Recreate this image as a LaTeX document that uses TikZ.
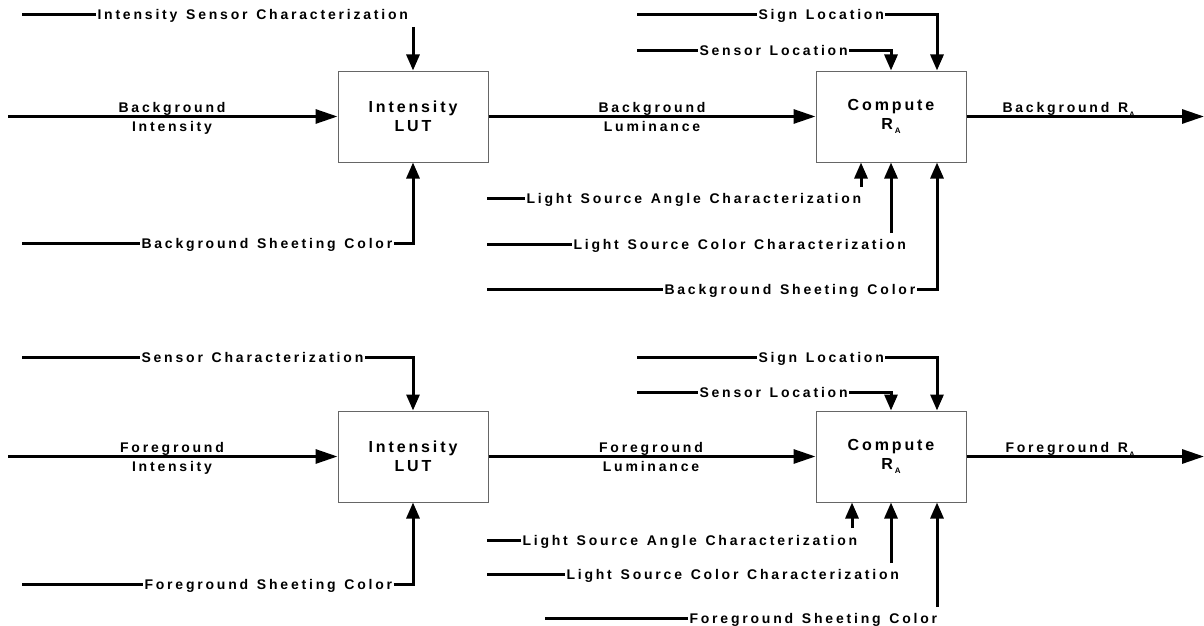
\documentclass[tikz,border=0pt]{standalone}
\usepackage{fontspec}
\usetikzlibrary{arrows.meta,calc}
\newfontfamily\labfont[LetterSpace=20,WordSpace=1.3]{Liberation Sans}
\newfontfamily\blkfont[LetterSpace=18]{Liberation Sans}
\newcommand{\subA}[1]{\raisebox{#1}{\fontsize{8}{8}\selectfont A}}
\begin{document}
\begin{tikzpicture}[x=1pt,y=-1pt,
  lab/.style={font=\labfont\bfseries\fontsize{14}{16}\selectfont, inner sep=0pt, outer sep=1.5pt, text height=10pt, text depth=0pt},
  blk/.style={draw=black!60, line width=1pt, minimum width=150pt, minimum height=91pt, align=center, inner sep=0pt,
    font=\blkfont\bfseries\fontsize{16}{19}\selectfont},
  wire/.style={line width=3pt},
  harr/.style={wire, -{Triangle[length=22pt,width=14pt]}},
  varr/.style={wire, -{Triangle[length=16pt,width=13pt]}}]
\useasboundingbox (0,0) rectangle (1204,626);

% ---------------- top row ----------------
\node[blk] (lut1) at (413,116.5) {Intensity\\LUT};
\node[blk] (cmp1) at (891,116.5) {Compute\\R\kern2pt\subA{-3.5pt}};

\coordinate (isc0) at (22,15);
\node[lab, anchor=west] (isc) at (96,15) {Intensity Sensor Characterization};
\draw[wire] (isc0) -- (isc.west);
\coordinate (isc1) at (413,27);
\draw[varr] (isc1) -- (lut1.north);

\coordinate (bi0) at (8,116.5);
\draw[harr] (bi0) -- (lut1.west);
\node[lab] (bia) at (172,107) {Background};
\node[lab] (bib) at (172,126) {Intensity};

\coordinate (bsc0) at (22,243);
\node[lab, anchor=west] (bsc) at (140,243) {Background Sheeting Color};
\draw[wire] (bsc0) -- (bsc.west);
\draw[varr] (bsc.east) -| (lut1.south);

\draw[harr] (lut1.east) -- (cmp1.west);
\node[lab] (bla) at (652,107) {Background};
\node[lab] (blb) at (652,126) {Luminance};

\coordinate (sl0) at (637,15);
\node[lab, anchor=west] (sl) at (757,15) {Sign Location};
\draw[wire] (sl0) -- (sl.west);
\draw[varr] (sl.east) -| ([xshift=46pt]cmp1.north);

\coordinate (snl0) at (637,51);
\node[lab, anchor=west] (snl) at (698,51) {Sensor Location};
\draw[wire] (snl0) -- (snl.west);
\draw[varr] (snl.east) -| (cmp1.north);

\coordinate (out1) at (1204,116.5);
\draw[harr] (cmp1.east) -- (out1);
\node[lab, anchor=west] (bra) at (1001,107) {Background R\kern1pt\subA{-5pt}};

\coordinate (lsa0) at (487,198);
\node[lab, anchor=west] (lsa) at (525,198) {Light Source Angle Characterization};
\draw[wire] (lsa0) -- (lsa.west);
\coordinate (lsa1) at (861,187);
\draw[varr] (lsa1) -- ([xshift=-30pt]cmp1.south);

\coordinate (lsc0) at (487,244);
\node[lab, anchor=west] (lsc) at (572,244) {Light Source Color Characterization};
\draw[wire] (lsc0) -- (lsc.west);
\coordinate (lsc1) at (891,233);
\draw[varr] (lsc1) -- (cmp1.south);

\coordinate (bscr0) at (487,289);
\node[lab, anchor=west] (bscr) at (663,289) {Background Sheeting Color};
\draw[wire] (bscr0) -- (bscr.west);
\draw[varr] (bscr.east) -| ([xshift=46pt]cmp1.south);

% ---------------- bottom row ----------------
\node[blk] (lut2) at (413,456.5) {Intensity\\LUT};
\node[blk] (cmp2) at (891,456.5) {Compute\\R\kern2pt\subA{-3.5pt}};

\coordinate (sc0) at (22,357);
\node[lab, anchor=west] (sc) at (140,357) {Sensor Characterization};
\draw[wire] (sc0) -- (sc.west);
\draw[varr] (sc.east) -| (lut2.north);

\coordinate (fi0) at (8,456.5);
\draw[harr] (fi0) -- (lut2.west);
\node[lab] (fia) at (172,447) {Foreground};
\node[lab] (fib) at (172,466) {Intensity};

\coordinate (fsc0) at (22,584);
\node[lab, anchor=west] (fsc) at (143,584) {Foreground Sheeting Color};
\draw[wire] (fsc0) -- (fsc.west);
\draw[varr] (fsc.east) -| (lut2.south);

\draw[harr] (lut2.east) -- (cmp2.west);
\node[lab] (fla) at (651,447) {Foreground};
\node[lab] (flb) at (651,466) {Luminance};

\coordinate (sl20) at (637,357);
\node[lab, anchor=west] (sl2) at (757,357) {Sign Location};
\draw[wire] (sl20) -- (sl2.west);
\draw[varr] (sl2.east) -| ([xshift=46pt]cmp2.north);

\coordinate (snl20) at (637,392);
\node[lab, anchor=west] (snl2) at (698,392) {Sensor Location};
\draw[wire] (snl20) -- (snl2.west);
\draw[varr] (snl2.east) -| (cmp2.north);

\coordinate (out2) at (1204,456.5);
\draw[harr] (cmp2.east) -- (out2);
\node[lab, anchor=west] (fra) at (1004,447) {Foreground R\kern1pt\subA{-5pt}};

\coordinate (lsa20) at (487,540);
\node[lab, anchor=west] (lsa2) at (521,540) {Light Source Angle Characterization};
\draw[wire] (lsa20) -- (lsa2.west);
\coordinate (lsa21) at (852,528);
\draw[varr] (lsa21) -- ([xshift=-39pt]cmp2.south);

\coordinate (lsc20) at (487,574);
\node[lab, anchor=west] (lsc2) at (565,574) {Light Source Color Characterization};
\draw[wire] (lsc20) -- (lsc2.west);
\coordinate (lsc21) at (891,563);
\draw[varr] (lsc21) -- (cmp2.south);

\coordinate (fscr0) at (545,618);
\node[lab, anchor=west] (fscr) at (688,618) {Foreground Sheeting Color};
\draw[wire] (fscr0) -- (fscr.west);
\coordinate (fscr1) at (937,607);
\draw[varr] (fscr1) -- ([xshift=46pt]cmp2.south);
\end{tikzpicture}
\end{document}
